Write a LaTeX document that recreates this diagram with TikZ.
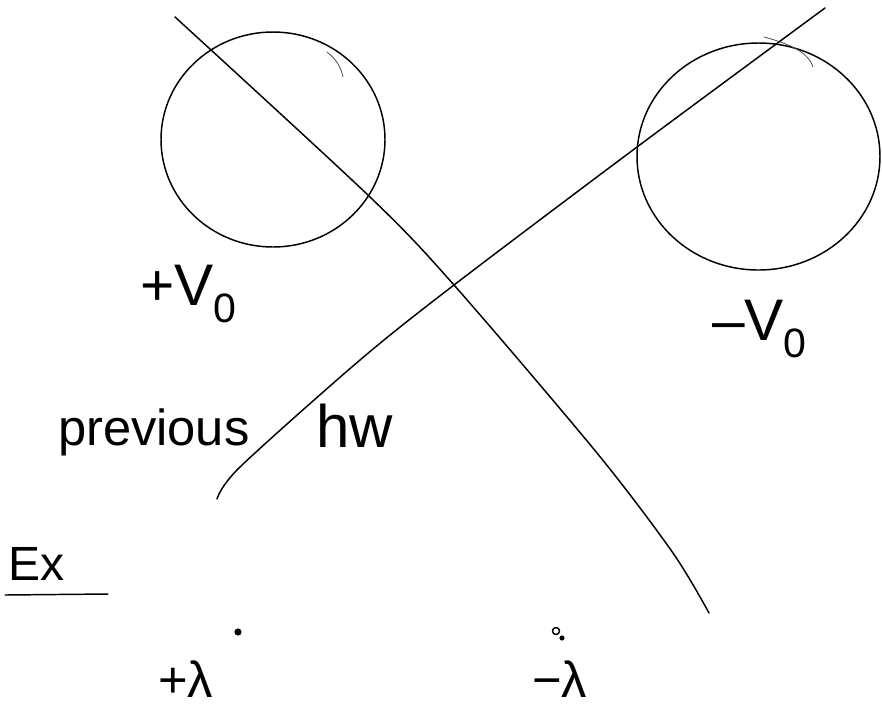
\documentclass[tikz,border=0pt]{standalone}
\usepackage{fontspec}
\setmainfont{Liberation Sans}
\begin{document}
\begin{tikzpicture}[x=0.75pt,y=-0.75pt,
  ink/.style={draw=black,line width=1.1pt,line cap=round,line join=round},
  thin ink/.style={draw=black!70,line width=0.6pt,line cap=round},
  hand/.style={inner sep=0pt,outer sep=0pt,text=black},
  dotmark/.style={fill=black,draw=black,line width=0.8pt}]
\useasboundingbox (0,0) rectangle (882,708);
% cylinders
\draw[ink] (273,139.5) ellipse [x radius=112,y radius=107.5];
\draw[ink] (758.5,156.5) ellipse [x radius=121.5,y radius=113.5];
% small extra strokes on the circles
\draw[thin ink] (764,37) .. controls (790,44) and (808,52) .. (813,67);
\draw[thin ink] (327,52) .. controls (336,59) and (341,67) .. (343,77);
% descending curve
\draw[ink] plot[smooth,tension=0.5] coordinates {(175,17) (370,197) (454,285) (597,453) (673,553) (709,613)};
% ascending curve
\draw[ink] plot[smooth,tension=0.5] coordinates {(825,8) (637,147) (454,285) (360,360) (240,467) (217,499)};
% texts
\node[hand,anchor=base west,font=\fontsize{44}{44}\selectfont] (vplus) at (140,305) {+V\textsubscript{0}};
\node[hand,anchor=base west,font=\fontsize{44}{44}\selectfont] (vminus) at (712,340) {–V\textsubscript{0}};
\node[hand,anchor=base west,font=\fontsize{38}{38}\selectfont] (prev) at (58,445) {previous};
\node[hand,anchor=base west,font=\fontsize{45}{45}\selectfont] (hw) at (316,447) {hw};
\node[hand,anchor=base west,font=\fontsize{36}{36}\selectfont] (ex) at (8,580) {Ex};
\coordinate (ulA) at (5,595);
\coordinate (ulB) at (108,594);
\draw[ink] (ulA) -- (ulB);
% charges
\node[hand,anchor=base west,font=\fontsize{38}{38}\selectfont] (lplus) at (158,697) {+λ};
\node[hand,anchor=base west,font=\fontsize{38}{38}\selectfont] (lminus) at (532,697) {−λ};
\fill[dotmark] (238,632) circle [radius=3];
\draw[ink] (556,631) circle [radius=3.5];
\fill[dotmark] (562,638) circle [radius=2];
\end{tikzpicture}
\end{document}
